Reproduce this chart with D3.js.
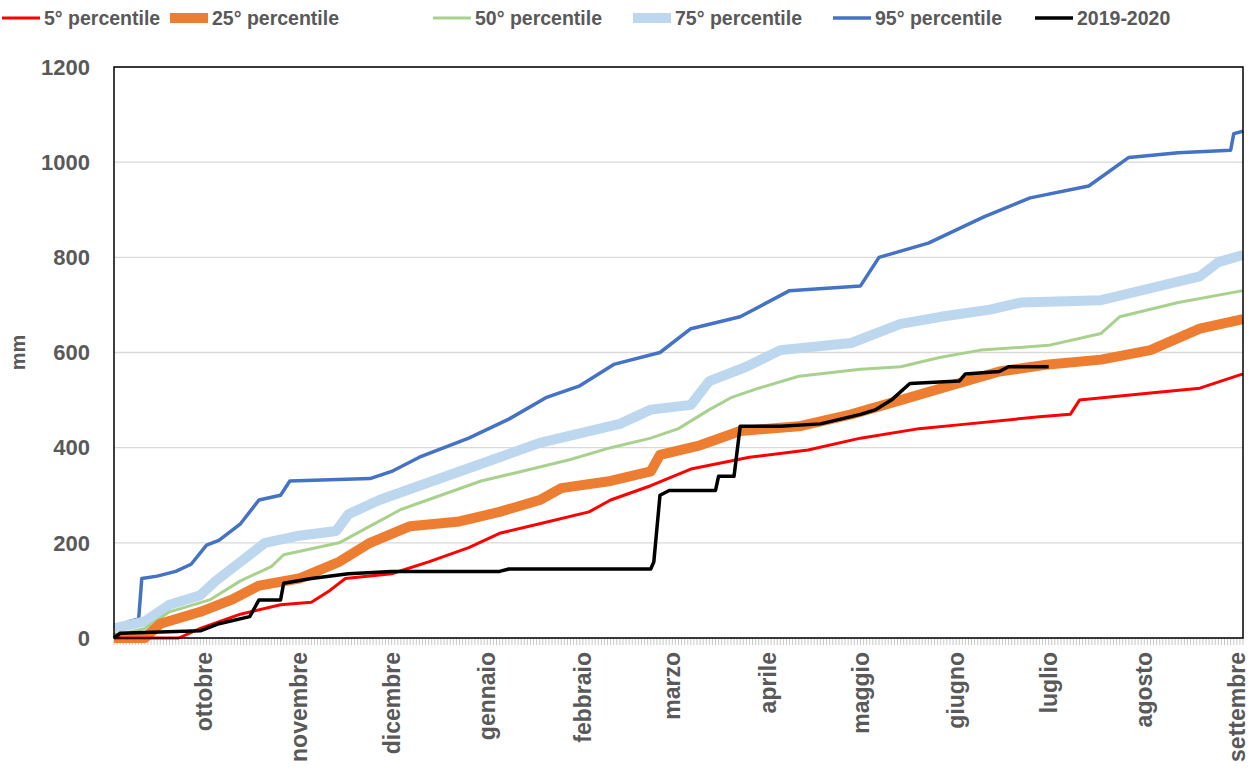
<!DOCTYPE html>
<html><head><meta charset="utf-8">
<script src="https://cdn.jsdelivr.net/npm/d3@7"></script>
<style>body{margin:0;background:#fff;font-family:"Liberation Sans",Arial,sans-serif}</style>
</head><body><svg id="c" width="1257" height="773"></svg>
<script>
// CONSTANTS
const width = 1257, height = 773,
    m = { top: 67, bottom: 135, left: 114, right: 14 };

const months = ["ottobre","novembre","dicembre","gennaio","febbraio","marzo","aprile","maggio","giugno","luglio","agosto","settembre"];
const monthDays = [30,61,91,122,153,182,213,243,274,304,335,365];
const yTicks = [0,200,400,600,800,1000,1200];

// series: [day, mm] breakpoints
const p5 = [[0,0],[21,0],[28,20],[41,50],[54,70],[64,75],[70,100],[75,125],[90,135],[102,160],[115,190],[125,220],[138,240],[154,265],[161,290],[174,320],[187,355],[206,380],[225,395],[242,420],[261,440],[277,450],[300,465],[310,470],[313,500],[336,515],[352,525],[366,555]];
const p25 = [[0,0],[10,0],[15,30],[28,55],[38,80],[47,110],[60,125],[73,160],[83,200],[96,235],[112,245],[125,265],[138,290],[145,315],[161,330],[174,350],[177,385],[190,405],[203,435],[222,445],[239,470],[255,500],[271,530],[287,560],[303,575],[320,585],[336,605],[352,650],[366,670]];
const p50 = [[0,5],[10,20],[18,55],[31,80],[41,120],[51,150],[55,175],[73,200],[83,235],[93,270],[106,300],[119,330],[132,350],[148,375],[161,400],[174,420],[183,440],[193,480],[200,505],[209,525],[222,550],[242,565],[255,570],[268,590],[281,605],[303,615],[320,640],[326,675],[345,705],[366,730]];
const p75 = [[0,20],[10,35],[18,70],[28,90],[33,120],[41,160],[49,200],[60,215],[72,225],[76,260],[86,290],[99,320],[112,350],[125,380],[138,410],[151,430],[164,450],[174,480],[187,490],[193,540],[205,570],[216,605],[239,620],[255,660],[268,675],[284,690],[294,705],[320,710],[336,735],[352,760],[358,790],[366,805]];
const p95 = [[0,20],[5,35],[8,40],[9,125],[14,130],[20,140],[25,155],[30,195],[34,205],[41,240],[47,290],[54,300],[57,330],[83,335],[90,350],[99,380],[115,420],[128,460],[140,505],[151,530],[162,575],[177,600],[187,650],[203,675],[219,730],[242,740],[248,800],[264,830],[282,885],[297,925],[316,950],[329,1010],[345,1020],[362,1025],[363,1060],[366,1065]];
const y1920 = [[0,0],[2,10],[28,15],[34,30],[44,45],[47,80],[54,80],[55,115],[64,125],[76,135],[90,140],[125,140],[128,145],[174,145],[175,160],[177,300],[180,310],[195,310],[196,340],[201,340],[203,445],[216,445],[229,450],[242,470],[247,480],[252,500],[258,535],[274,540],[276,555],[287,560],[290,570],[303,570]];

const series = [
  { name: "5° percentile", data: p5, color: "#ff0000", w: 3 },
  { name: "25° percentile", data: p25, color: "#ed7d31", w: 10 },
  { name: "50° percentile", data: p50, color: "#a9d18e", w: 3 },
  { name: "75° percentile", data: p75, color: "#bdd7ee", w: 10 },
  { name: "95° percentile", data: p95, color: "#4472c4", w: 3.5 },
  { name: "2019-2020", data: y1920, color: "#000000", w: 3.5 }
];
const drawOrder = [4, 3, 2, 1, 0, 5];

const svg = d3.select("#c");
const xScale = d3.scaleLinear().domain([0, 366]).range([m.left, width - m.right]);
const yScale = d3.scaleLinear().domain([0, 1200]).range([height - m.bottom, m.top]);

// GRID
svg.append("g").selectAll("line").data(yTicks.slice(1)).join("line")
  .attr("x1", m.left).attr("x2", width - m.right)
  .attr("y1", d => yScale(d)).attr("y2", d => yScale(d))
  .attr("stroke", "#d9d9d9").attr("stroke-width", 1.3);

// DAILY TICKS
svg.append("g").selectAll("line").data(d3.range(0, 367)).join("line")
  .attr("x1", d => xScale(d)).attr("x2", d => xScale(d))
  .attr("y1", yScale(0)).attr("y2", yScale(0) + 7)
  .attr("stroke", "#c8c8c8").attr("stroke-width", 1);
svg.append("line").attr("x1", m.left).attr("x2", width - m.right)
  .attr("y1", yScale(0)).attr("y2", yScale(0)).attr("stroke", "#d9d9d9").attr("stroke-width", 1.5);

// LINES
const line = d3.line().x(d => xScale(d[0])).y(d => yScale(d[1]));
drawOrder.forEach(i => {
  const s = series[i];
  svg.append("path").attr("d", line(s.data)).attr("fill", "none")
    .attr("stroke", s.color).attr("stroke-width", s.w).attr("stroke-linejoin", "round");
});

// FRAME
svg.append("rect").attr("x", m.left).attr("y", m.top)
  .attr("width", width - m.left - m.right).attr("height", height - m.top - m.bottom)
  .attr("fill", "none").attr("stroke", "#000").attr("stroke-width", 1.5);

// Y AXIS LABELS
svg.append("g").selectAll("text").data(yTicks).join("text")
  .attr("x", m.left - 24).attr("y", d => yScale(d)).attr("dy", "0.35em")
  .attr("text-anchor", "end").attr("font-size", 22).attr("font-weight", "bold")
  .attr("fill", "#595959").text(d => d);
svg.append("text").attr("transform", `translate(18,${(m.top + height - m.bottom) / 2}) rotate(-90)`)
  .attr("text-anchor", "middle").attr("dy", "0.35em").attr("font-size", 20).attr("font-weight", "bold")
  .attr("fill", "#595959").text("mm");

// MONTH LABELS
svg.append("g").selectAll("text").data(months).join("text")
  .attr("transform", (d, i) => `translate(${xScale(monthDays[i]) - 3},${yScale(0) + 14}) rotate(-90)`)
  .attr("dy", "0.35em").attr("text-anchor", "end").attr("font-size", 23).attr("font-weight", "bold")
  .attr("fill", "#595959").text(d => d);

// LEGEND
const legX = [2, 170, 433, 633, 833, 1035];
const leg = svg.append("g").selectAll("g").data(series).join("g")
  .attr("transform", (d, i) => `translate(${legX[i]},18)`);
leg.append("line").attr("x1", 0).attr("x2", 38).attr("stroke", d => d.color).attr("stroke-width", d => d.w);
leg.append("text").attr("x", 42).attr("dy", "0.35em").attr("font-size", 19.5).attr("font-weight", "bold")
  .attr("fill", "#595959").text(d => d.name);
</script></body></html>
